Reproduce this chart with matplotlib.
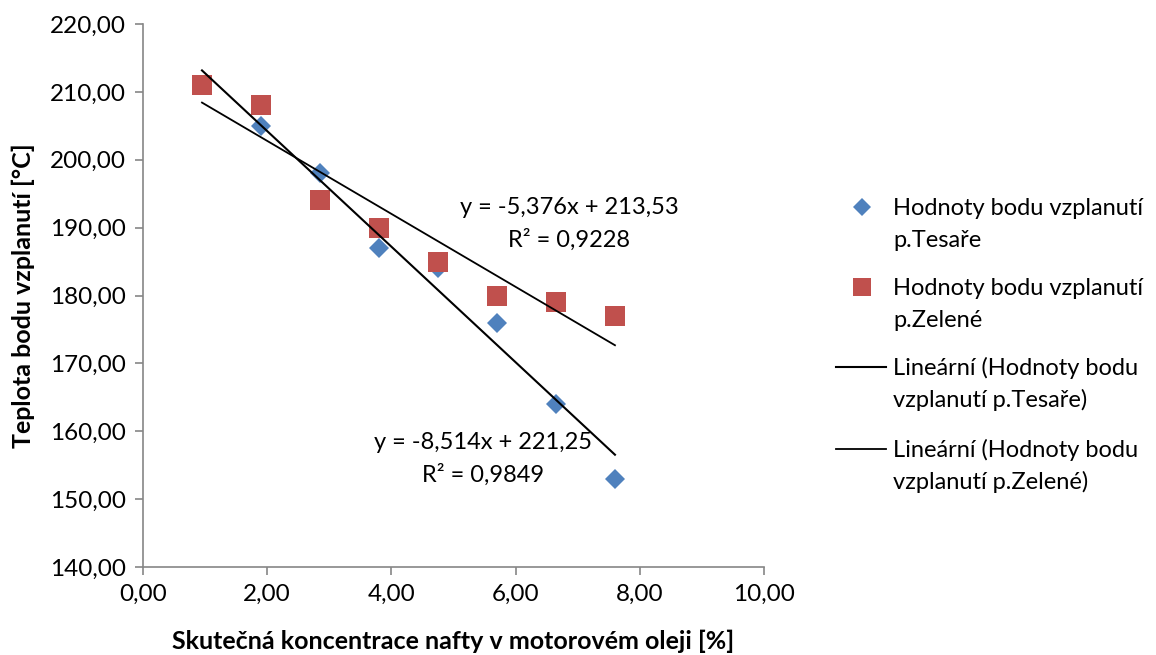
import matplotlib
matplotlib.use("Agg")
import matplotlib.pyplot as plt
import numpy as np
from matplotlib.ticker import FuncFormatter
from matplotlib.lines import Line2D

# ---- data ----
koncentrace = [0.95, 1.90, 2.85, 3.80, 4.75, 5.70, 6.65, 7.60]
tesar = [211, 205, 198, 187, 184, 176, 164, 153]
zelena = [211, 208, 194, 190, 185, 180, 179, 177]
trend_tesar = (-8.514, 221.25)
trend_zelena = (-5.376, 213.53)
eq_tesar = ["y = -8,514x + 221,25", "R² = 0,9849"]
eq_zelena = ["y = -5,376x + 213,53", "R² = 0,9228"]
labels = [["Hodnoty bodu vzplanutí", "p.Tesaře"],
          ["Hodnoty bodu vzplanutí", "p.Zelené"],
          ["Lineární (Hodnoty bodu", "vzplanutí p.Tesaře)"],
          ["Lineární (Hodnoty bodu", "vzplanutí p.Zelené)"]]
xlabel = "Skutečná koncentrace nafty v motorovém oleji [%]"
ylabel = "Teplota bodu vzplanutí [°C]"

plt.rcParams['font.family'] = ['Lato', 'DejaVu Sans']
FS_TICK = 17.5
FS_LAB = 18
FS_TXT = 17

W, H = 1156, 655
fig = plt.figure(figsize=(W/100, H/100), dpi=100)
ax = fig.add_axes([143/W, (H-567)/H, 621/W, 543/H])

blue = '#4F81BD'
red = '#C0504D'

ax.plot(koncentrace, tesar, linestyle='none', marker='D', markersize=10,
        color=blue, markeredgewidth=0, zorder=3)
ax.plot(koncentrace, zelena, linestyle='none', marker='s', markersize=14,
        color=red, markeredgewidth=0, zorder=3)

xs = np.array([koncentrace[0], koncentrace[-1]])
ax.plot(xs, trend_tesar[0]*xs + trend_tesar[1], color='black', lw=1.5, zorder=4)
ax.plot(xs, trend_zelena[0]*xs + trend_zelena[1], color='black', lw=1.3, zorder=4)

ax.set_xlim(0, 10)
ax.set_ylim(140, 220)
ax.set_xticks(np.arange(0, 10.01, 2))
ax.set_yticks(np.arange(140, 220.01, 10))
fmt = FuncFormatter(lambda v, p: f"{v:.2f}".replace('.', ','))
ax.xaxis.set_major_formatter(fmt)
ax.yaxis.set_major_formatter(fmt)

for s in ['top', 'right']:
    ax.spines[s].set_visible(False)
for s in ['left', 'bottom']:
    ax.spines[s].set_color('#868686')
    ax.spines[s].set_linewidth(1.2)
ax.tick_params(axis='both', direction='out', length=6, width=1.2, color='#868686',
               labelsize=FS_TICK, labelcolor='black', pad=6)

ax.set_xlabel(xlabel, fontsize=FS_LAB, fontweight='bold', labelpad=18)
ax.set_ylabel(ylabel, fontsize=FS_LAB, fontweight='bold', labelpad=11)

def ftext(px, py, s, **kw):
    fig.text(px/W, 1-py/H, s, fontsize=FS_TXT, va='baseline', **kw)

# trendline equations
ftext(569, 214, eq_zelena[0], ha='center')
ftext(569, 247, eq_zelena[1], ha='center')
ftext(483, 449, eq_tesar[0], ha='center')
ftext(483, 482, eq_tesar[1], ha='center')

# legend (manual)
rows = [207, 287, 367, 449]
tx = 893
for i, (lab, y) in enumerate(zip(labels, rows)):
    ftext(tx, y + 8, lab[0], ha='left')
    ftext(tx, y + 40, lab[1], ha='left')
fy = lambda y: 1 - y/H
fig.add_artist(Line2D([862/W], [fy(rows[0])], marker='D', markersize=9.5,
                      color=blue, markeredgewidth=0, linestyle='none'))
fig.add_artist(Line2D([862/W], [fy(rows[1])], marker='s', markersize=13,
                      color=red, markeredgewidth=0, linestyle='none'))
fig.add_artist(Line2D([836/W, 886/W], [fy(rows[2])]*2, color='black', lw=1.5))
fig.add_artist(Line2D([836/W, 886/W], [fy(rows[3])]*2, color='black', lw=1.3))

fig.savefig('out.png', dpi=100)
